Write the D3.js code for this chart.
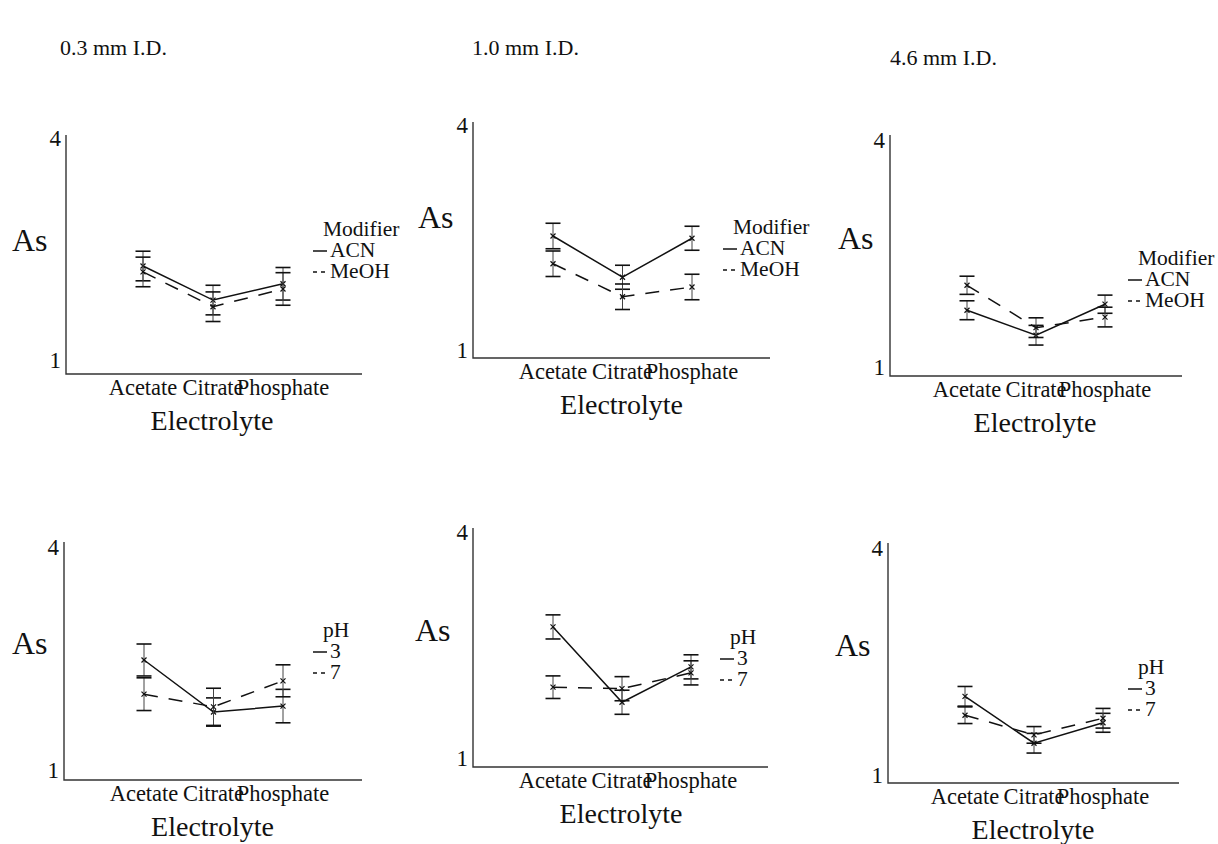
<!DOCTYPE html>
<html>
<head>
<meta charset="utf-8">
<script src="https://cdn.jsdelivr.net/npm/d3@7"></script>
<style>
  body { margin: 0; background: #fff; }
  svg { display: block; }
  text { font-family: "Liberation Serif", "Times New Roman", serif; fill: #111; }
</style>
</head>
<body>
<svg id="chart" width="1218" height="844"></svg>
<script>
// Electrolyte categories and axis ticks
const categories = ["Acetate", "Citrate", "Phosphate"];
const yTicks = [1, 4];
const columnTitles = ["0.3 mm I.D.", "1.0 mm I.D.", "4.6 mm I.D."];

// Legend groups
const modifierTitle = "Modifier";
const modifierNames = ["ACN", "MeOH"];
const phTitle = "pH";
const phNames = ["3", "7"];

// Asymmetry factor (As), mean and error half-width, per column diameter
const acnMean03 = [2.27, 1.81, 2.03],  acnErr03 = [0.20, 0.20, 0.22];
const meohMean03 = [2.19, 1.72, 1.96], meohErr03 = [0.20, 0.20, 0.22];
const acnMean10 = [2.52, 1.97, 2.49],  acnErr10 = [0.17, 0.16, 0.16];
const meohMean10 = [2.15, 1.71, 1.84], meohErr10 = [0.17, 0.17, 0.17];
const acnMean46 = [1.75, 1.42, 1.83],  acnErr46 = [0.125, 0.13, 0.12];
const meohMean46 = [2.08, 1.52, 1.66], meohErr46 = [0.12, 0.13, 0.13];

const ph3Mean03 = [2.48, 1.78, 1.86], ph3Err03 = [0.215, 0.19, 0.225];
const ph7Mean03 = [2.02, 1.85, 2.20], ph7Err03 = [0.22, 0.25, 0.215];
const ph3Mean10 = [2.74, 1.74, 2.21], ph3Err10 = [0.16, 0.16, 0.16];
const ph7Mean10 = [1.94, 1.92, 2.13], ph7Err10 = [0.15, 0.16, 0.16];
const ph3Mean46 = [2.04, 1.42, 1.69], ph3Err46 = [0.13, 0.13, 0.125];
const ph7Mean46 = [1.79, 1.53, 1.75], ph7Err46 = [0.11, 0.11, 0.13];

// Panel frames: axis box, where the 1 and 4 ticks sit, category span, label spots
const panels = [
  { left: 66, right: 362, top: 135, bottom: 374, y1: 360, y4: 138, cx: [143, 283],
    asPos: [12, 240], legPos: [313, 229], legTitle: modifierTitle, names: modifierNames,
    series: [[acnMean03, acnErr03], [meohMean03, meohErr03]] },
  { left: 473, right: 770, top: 122, bottom: 358, y1: 350, y4: 125, cx: [553, 692],
    asPos: [418, 217], legPos: [723, 227], legTitle: modifierTitle, names: modifierNames,
    series: [[acnMean10, acnErr10], [meohMean10, meohErr10]] },
  { left: 890, right: 1182, top: 135, bottom: 376, y1: 367, y4: 140, cx: [967, 1105],
    asPos: [838, 238], legPos: [1128, 258], legTitle: modifierTitle, names: modifierNames,
    series: [[acnMean46, acnErr46], [meohMean46, meohErr46]] },
  { left: 64, right: 362, top: 542, bottom: 780, y1: 770, y4: 547, cx: [144, 283],
    asPos: [12, 643], legPos: [313, 630], legTitle: phTitle, names: phNames,
    series: [[ph3Mean03, ph3Err03], [ph7Mean03, ph7Err03]] },
  { left: 473, right: 768, top: 528, bottom: 767, y1: 758, y4: 532, cx: [553, 691],
    asPos: [415, 630], legPos: [720, 637], legTitle: phTitle, names: phNames,
    series: [[ph3Mean10, ph3Err10], [ph7Mean10, ph7Err10]] },
  { left: 888, right: 1179, top: 543, bottom: 783, y1: 775, y4: 548, cx: [965, 1103],
    asPos: [835, 645], legPos: [1128, 667], legTitle: phTitle, names: phNames,
    series: [[ph3Mean46, ph3Err46], [ph7Mean46, ph7Err46]] }
];
const titlePos = [[60, 55], [472, 55], [890, 65]];

const INK = "#111";
const dashes = [null, "14,11"];       // solid then dashed series
const legendDashes = [null, "4,4"];

const svg = d3.select("#chart");

// Column headings
svg.selectAll("text.title")
  .data(columnTitles)
  .join("text")
  .attr("class", "title")
  .attr("x", (d, i) => titlePos[i][0])
  .attr("y", (d, i) => titlePos[i][1])
  .attr("font-size", 22)
  .text(d => d);

panels.forEach(p => {
  const g = svg.append("g");
  const x = d3.scalePoint().domain(categories).range(p.cx);
  const y = d3.scaleLinear().domain([1, 4]).range([p.y1, p.y4]);

  // Axis frame: left and bottom lines only
  g.append("path")
    .attr("d", `M${p.left},${p.top}V${p.bottom}H${p.right}`)
    .attr("fill", "none")
    .attr("stroke", "#333")
    .attr("stroke-width", 1.4);

  // Y tick labels (1 and 4)
  g.selectAll("text.ytick")
    .data(yTicks)
    .join("text")
    .attr("class", "ytick")
    .attr("x", p.left - 5)
    .attr("y", d => y(d) + 8)
    .attr("text-anchor", "end")
    .attr("font-size", 23)
    .text(d => d);

  // Category labels
  g.selectAll("text.cat")
    .data(categories)
    .join("text")
    .attr("class", "cat")
    .attr("x", d => x(d))
    .attr("y", p.bottom + 21)
    .attr("text-anchor", "middle")
    .attr("font-size", 22.5)
    .text(d => d);

  // Axis titles
  g.append("text")
    .attr("x", x("Citrate") - 1)
    .attr("y", p.bottom + 56)
    .attr("text-anchor", "middle")
    .attr("font-size", 28)
    .text("Electrolyte");

  g.append("text")
    .attr("x", p.asPos[0])
    .attr("y", p.asPos[1] + 11)
    .attr("font-size", 32)
    .text("As");

  // Series: error bars, connecting line, point markers
  p.series.forEach(([means, errs], si) => {
    const pts = categories.map((c, i) => ({ c, m: means[i], e: errs[i] }));

    const line = d3.line().x(d => x(d.c)).y(d => y(d.m));
    g.append("path")
      .datum(pts)
      .attr("d", line)
      .attr("fill", "none")
      .attr("stroke", INK)
      .attr("stroke-width", 1.5)
      .attr("stroke-dasharray", dashes[si]);

    const eb = g.selectAll(null).data(pts).join("g");
    eb.append("line")
      .attr("x1", d => x(d.c)).attr("x2", d => x(d.c))
      .attr("y1", d => y(d.m + d.e)).attr("y2", d => y(d.m - d.e))
      .attr("stroke", "#444").attr("stroke-width", 1);
    [1, -1].forEach(s => {
      eb.append("line")
        .attr("x1", d => x(d.c) - 7.5).attr("x2", d => x(d.c) + 7.5)
        .attr("y1", d => y(d.m + s * d.e)).attr("y2", d => y(d.m + s * d.e))
        .attr("stroke", INK).attr("stroke-width", 1.6);
    });

    // small x markers
    g.selectAll(null).data(pts).join("path")
      .attr("d", d => {
        const cx = x(d.c), cy = y(d.m), r = 2.5;
        return `M${cx - r},${cy - r}L${cx + r},${cy + r}M${cx - r},${cy + r}L${cx + r},${cy - r}`;
      })
      .attr("stroke", INK).attr("stroke-width", 1.2);
  });

  // Legend: group title then one row per series
  const lx = p.legPos[0], ly = p.legPos[1];
  g.append("text")
    .attr("x", lx + 10)
    .attr("y", ly + 7)
    .attr("font-size", 21.5)
    .text(p.legTitle);

  p.names.forEach((n, i) => {
    const ry = ly + 21 * (i + 1);
    g.append("line")
      .attr("x1", lx).attr("x2", lx + 14)
      .attr("y1", ry + 1).attr("y2", ry + 1)
      .attr("stroke", INK).attr("stroke-width", 1.5)
      .attr("stroke-dasharray", legendDashes[i]);
    g.append("text")
      .attr("x", lx + 17)
      .attr("y", ry + 7)
      .attr("font-size", 21.5)
      .text(n);
  });
});
</script>
</body>
</html>
